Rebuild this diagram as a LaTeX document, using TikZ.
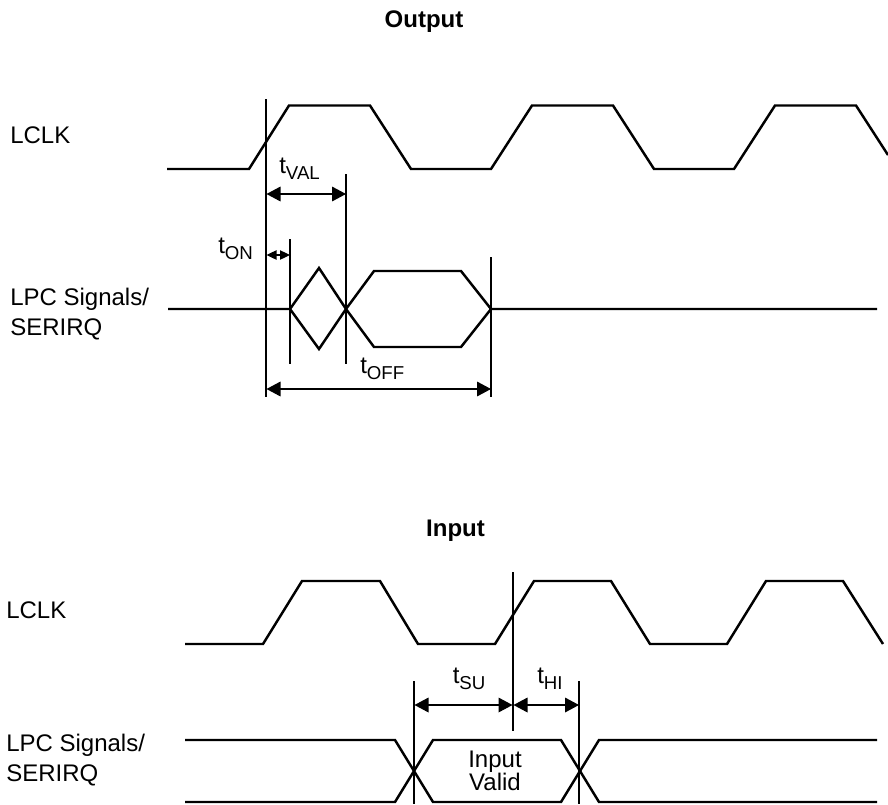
\documentclass[tikz,border=0pt]{standalone}
\usepackage{fontspec}
\setmainfont{Liberation Sans}
\usetikzlibrary{arrows.meta}
\newcommand{\tsub}[1]{t\raisebox{-4.9pt}{\fontsize{14}{15}\selectfont #1}}
\tikzset{
  x=0.75pt,y=-0.75pt,
  wave/.style={line width=1.85pt,line join=miter,black},
  guide/.style={line width=0.9pt,black},
  dim/.style={line width=0.9pt,{Triangle[length=10.5pt,width=11pt]}-{Triangle[length=10.5pt,width=11pt]}},
  dimsmall/.style={line width=0.9pt,{Triangle[length=7.5pt,width=7pt]}-{Triangle[length=7.5pt,width=7pt]}},
  lbl/.style={font=\fontsize{18}{22.5}\selectfont,inner sep=0pt,align=left},
  tlbl/.style={font=\fontsize{18}{22.5}\selectfont,inner sep=0pt,anchor=base west},
  title/.style={font=\fontsize{18}{22.5}\selectfont\bfseries,inner sep=0pt,anchor=base},
}
\begin{document}
\begin{tikzpicture}
\useasboundingbox (0,0) rectangle (888,804);
% titles and labels
\node[title] (tout) at (424,27) {Output};
\node[title] (tin) at (455.5,536) {Input};
\node[lbl,anchor=west] (lclka) at (10,135) {LCLK};
\node[lbl,anchor=west] (lpca) at (10,314) {LPC Signals/\\SERIRQ};
\node[lbl,anchor=west] (lclkb) at (6,610) {LCLK};
\node[lbl,anchor=west] (lpcb) at (6,760) {LPC Signals/\\SERIRQ};
\node[tlbl] (tval) at (279,173) {\tsub{VAL}};
\node[tlbl] (ton) at (218,253) {\tsub{ON}};
\node[tlbl] (toff) at (360,373) {\tsub{OFF}};
\node[tlbl] (tsu) at (452.5,683) {\tsub{SU}};
\node[tlbl] (thi) at (537,683) {\tsub{HI}};
\node[align=center,inner sep=0pt,font=\fontsize{18}{17.3}\selectfont] (valid) at (495,771) {Input\\Valid};
% output waveforms
\draw[wave] (167,169) -- (249,169) -- (289,105.5) -- (370,105.5) -- (411,169) -- (491,169) -- (532,105.5) -- (613,105.5) -- (654,169) -- (734,169) -- (775,105.5) -- (856,105.5) -- (888,155);
\draw[wave] (168,309) -- (290,309) -- (319,268) -- (346,309) -- (374,271) -- (461,271) -- (491,309) -- (877,309);
\draw[wave] (290,309) -- (319,349) -- (346,309) -- (374,347) -- (461,347) -- (491,309);
% output guides
\coordinate (a0t) at (266,99);  \coordinate (a0b) at (266,397);
\coordinate (a1t) at (290,239); \coordinate (a1b) at (290,364);
\coordinate (a2t) at (346,174); \coordinate (a2b) at (346,364);
\coordinate (a3t) at (491,257); \coordinate (a3b) at (491,397);
\draw[guide] (a0t) -- (a0b);
\draw[guide] (a1t) -- (a1b);
\draw[guide] (a2t) -- (a2b);
\draw[guide] (a3t) -- (a3b);
\coordinate (v0) at (266.5,194); \coordinate (v1) at (346,194);
\coordinate (n0) at (266.5,255); \coordinate (n1) at (290,255);
\coordinate (f0) at (266.5,389); \coordinate (f1) at (491,389);
\draw[dim] (v0) -- (v1);
\draw[dimsmall] (n0) -- (n1);
\draw[dim] (f0) -- (f1);
% input waveforms
\draw[wave] (185,644) -- (263,644) -- (302,581) -- (380,581) -- (418,644) -- (495,644) -- (534,581) -- (611,581) -- (650,644) -- (727,644) -- (766,581) -- (843,581) -- (883,644);
\draw[wave] (185,740) -- (395,740) -- (433,802) -- (561,802) -- (599,740) -- (877,740);
\draw[wave] (185,802) -- (395,802) -- (433,740) -- (561,740) -- (599,802) -- (877,802);
% input guides
\coordinate (b0t) at (414,681); \coordinate (b0b) at (414,804);
\coordinate (b1t) at (513,572); \coordinate (b1b) at (513,731);
\coordinate (b2t) at (579,681); \coordinate (b2b) at (579,804);
\draw[guide] (b0t) -- (b0b);
\draw[guide] (b1t) -- (b1b);
\draw[guide] (b2t) -- (b2b);
\coordinate (s0) at (414.5,705); \coordinate (s1) at (512.5,705);
\coordinate (h0) at (513.5,705); \coordinate (h1) at (579,705);
\draw[dim] (s0) -- (s1);
\draw[dim] (h0) -- (h1);
\end{tikzpicture}
\end{document}
